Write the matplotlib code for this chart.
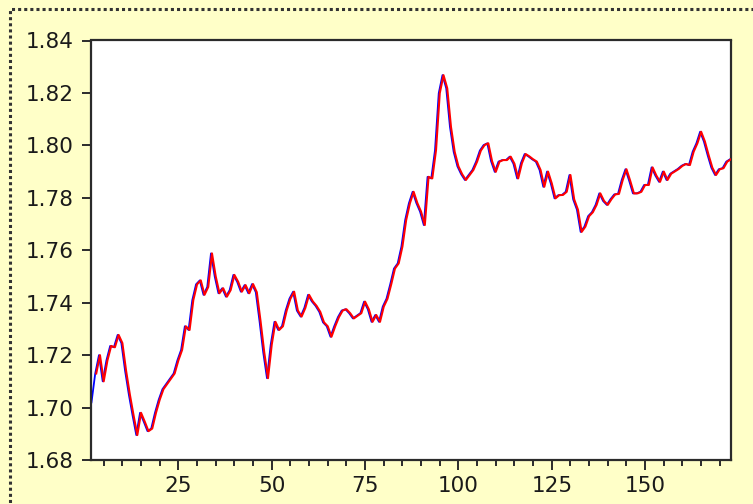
import numpy as np
import matplotlib
matplotlib.use("Agg")
import matplotlib.pyplot as plt
import matplotlib.transforms as mtransforms
from matplotlib.patches import Rectangle
from matplotlib.ticker import MultipleLocator, FixedLocator

# Actual series, observations 3..173
actual = [
    1.713, 1.720, 1.710, 1.718, 1.7235, 1.723, 1.7277, 1.7246,            # 3-10
    1.714, 1.705, 1.697, 1.6895, 1.698, 1.6946, 1.691, 1.692, 1.698, 1.703,  # 11-20
    1.707, 1.709, 1.711, 1.713, 1.718, 1.722, 1.731, 1.7296, 1.741, 1.747,   # 21-30
    1.7485, 1.743, 1.746, 1.7588, 1.750, 1.7436, 1.7455, 1.7423, 1.7448, 1.7506,  # 31-40
    1.748, 1.7442, 1.7467, 1.7436, 1.7471, 1.744, 1.733, 1.721, 1.7112, 1.724,    # 41-50
    1.7327, 1.7296, 1.731, 1.737, 1.7415, 1.7442, 1.737, 1.7347, 1.738, 1.743,    # 51-60
    1.7405, 1.7388, 1.7365, 1.7325, 1.731, 1.727, 1.731, 1.7345, 1.737, 1.7375,   # 61-70
    1.736, 1.734, 1.735, 1.736, 1.7404, 1.7375, 1.7327, 1.7353, 1.7327, 1.7385,   # 71-80
    1.7415, 1.747, 1.753, 1.755, 1.7614, 1.7715, 1.7779, 1.7823, 1.778, 1.7747,   # 81-90
    1.7696, 1.788, 1.7874, 1.7982, 1.8199, 1.8268, 1.8218, 1.8071, 1.7975, 1.792, # 91-100
    1.789, 1.7868, 1.7887, 1.7906, 1.7938, 1.798, 1.8001, 1.8008, 1.794, 1.7899,  # 101-110
    1.7938, 1.7944, 1.7944, 1.7957, 1.793, 1.7874, 1.7932, 1.7967, 1.7958, 1.7947,  # 111-120
    1.7938, 1.7906, 1.7842, 1.790, 1.7855, 1.7798, 1.781, 1.7811, 1.7823, 1.7887,   # 121-130
    1.7794, 1.7755, 1.767, 1.769, 1.773, 1.7745, 1.7773, 1.7817, 1.7788, 1.7773,    # 131-140
    1.7795, 1.7813, 1.7815, 1.7868, 1.7909, 1.7865, 1.7817, 1.7817, 1.7823, 1.7849, # 141-150
    1.7849, 1.7916, 1.7885, 1.7861, 1.790, 1.7868, 1.7892, 1.7901, 1.791, 1.7922,   # 151-160
    1.7929, 1.7925, 1.7976, 1.8008, 1.8052, 1.8015, 1.7963, 1.7915, 1.7887, 1.7909, # 161-170
    1.7913, 1.7938, 1.7947,                                                        # 171-173
]
actual_start = 3

# Fitted series starts one observation earlier and tracks the actual path
fitted = [1.702] + actual
fitted_start = 2

y_ticks = [1.68, 1.70, 1.72, 1.74, 1.76, 1.78, 1.80, 1.82, 1.84]
y_tick_labels = ["1.68", "1.70", "1.72", "1.74", "1.76", "1.78", "1.80", "1.82", "1.84"]
x_ticks = [25, 50, 75, 100, 125, 150]
x_tick_labels = ["25", "50", "75", "100", "125", "150"]

W, H = 753, 504
bg = "#FFFFC8"
fig = plt.figure(figsize=(W / 100, H / 100), dpi=100, facecolor=bg)

ax = fig.add_axes([91 / W, 1 - 460 / H, (731 - 91) / W, (460 - 40.5) / H])
ax.set_facecolor("white")

x_fit = np.arange(fitted_start, fitted_start + len(fitted))
x_act = np.arange(actual_start, actual_start + len(actual))

blue_tr = mtransforms.offset_copy(ax.transData, fig=fig, x=-1.0, y=0, units="dots")
ax.plot(x_fit, fitted, color="#0000FF", lw=1.3, transform=blue_tr, zorder=2)
ax.plot(x_act, actual, color="#FF0000", lw=1.5, zorder=3)

ax.set_xlim(1.6, 173)
ax.set_ylim(1.68, 1.84)

ax.set_yticks(y_ticks)
ax.set_yticklabels(y_tick_labels)
ax.xaxis.set_major_locator(FixedLocator(x_ticks))
ax.set_xticklabels(x_tick_labels)
ax.xaxis.set_minor_locator(MultipleLocator(5))

for s in ax.spines.values():
    s.set_color("#2b2b2b")
    s.set_linewidth(1.6)

ax.tick_params(axis="y", which="major", direction="out", length=6.5, width=1.4,
               color="#2b2b2b", pad=6, labelsize=15.5, labelcolor="#1a1a1a")
ax.tick_params(axis="x", which="major", direction="out", length=7.5, width=1.4,
               color="#2b2b2b", pad=4, labelsize=15.5, labelcolor="#1a1a1a")
ax.tick_params(axis="x", which="minor", direction="out", length=4, width=1.4,
               color="#2b2b2b")
ax.tick_params(top=False, right=False)

for lbl in ax.get_xticklabels() + ax.get_yticklabels():
    lbl.set_fontfamily("DejaVu Sans")

# Dotted frame around the chart area
frame = Rectangle((10 / W, -0.2), 1.5, 1 - 8.5 / H + 0.2, transform=fig.transFigure,
                  fill=False, edgecolor="#333333", linewidth=2.2,
                  linestyle=(0, (1, 1)), clip_on=False)
fig.patches.append(frame)

fig.savefig("out.png", dpi=100, facecolor=bg)
